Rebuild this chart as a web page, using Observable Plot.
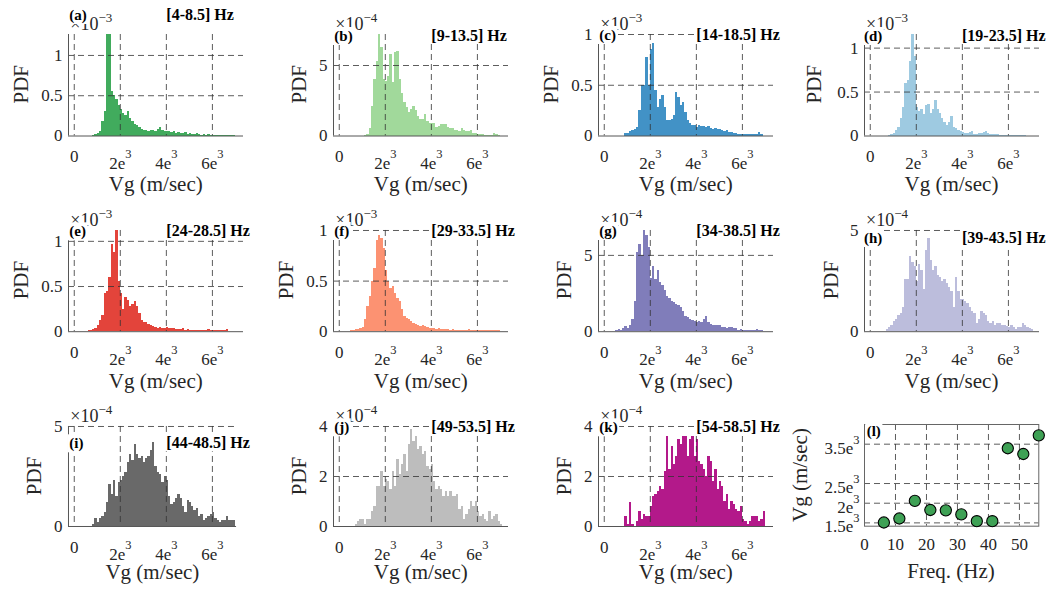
<!DOCTYPE html>
<html>
<head>
<meta charset="utf-8">
<script src="https://cdn.jsdelivr.net/npm/d3@7"></script>
<script src="https://cdn.jsdelivr.net/npm/@observablehq/plot@0.6"></script>
<style>
html,body{margin:0;padding:0;background:#fff;}
#root{position:relative;width:1055px;height:594px;overflow:hidden;background:#fff;}
#root svg{position:absolute;overflow:visible;}
</style>
</head>
<body>
<div id="root"></div>
<script>
// ---------------- data ----------------
const binWidth = 100;
const panelLetters = ["(a)","(b)","(c)","(d)","(e)","(f)","(g)","(h)","(i)","(j)","(k)","(l)"];
const bandLabels = ["[4-8.5] Hz","[9-13.5] Hz","[14-18.5] Hz","[19-23.5] Hz","[24-28.5] Hz","[29-33.5] Hz","[34-38.5] Hz","[39-43.5] Hz","[44-48.5] Hz","[49-53.5] Hz","[54-58.5] Hz"];
const binStarts = [700, 1100, 900, 800, 600, 500, 500, 700, 800, 700, 900];

const pdfA = [0,0.01,0.02,0.03,0.05,0.18,0.3,1.26,1.26,0.55,0.5,0.45,0.38,0.33,0.28,0.25,0.3,0.22,0.18,0.14,0.13,0.1,0.08,0.07,0.07,0.06,0.07,0.07,0.06,0.08,0.11,0.07,0.05,0.06,0.05,0.04,0.05,0.03,0.04,0.03,0.03,0.04,0.02,0.03,0.02,0.02,0.03,0.02,0.01,0.02,0.01,0.02,0.01,0.01,0.01,0.01,0.01,0.01,0.01,0.01,0.01,0.01,0.01];
const pdfB = [0.05,0.1,0.5,2.1,4.0,5.3,7.2,6.3,4.0,3.9,4.2,5.8,3.8,5.9,6.0,4.0,3.0,2.4,2.0,1.7,1.9,2.1,1.8,1.4,1.2,1.2,1.5,1.0,0.9,0.9,0.9,0.6,0.7,0.8,0.8,0.85,0.6,0.5,0.5,0.4,0.4,0.3,0.55,0.4,0.3,0.35,0.4,0.2,0.2,0.1,0.1,0.1,0.05,0.05,0.05,0.05,0.2,0.1,0.05];
const pdfC = [0.02,0.02,0.04,0.05,0.06,0.08,0.25,0.5,0.5,0.77,0.5,0.85,0.91,0.45,0.28,0.36,0.4,0.28,0.15,0.15,0.16,0.2,0.43,0.38,0.3,0.33,0.23,0.15,0.12,0.1,0.1,0.08,0.1,0.09,0.09,0.08,0.09,0.07,0.06,0.07,0.06,0.06,0.05,0.04,0.05,0.03,0.03,0.02,0.02,0.01,0.01,0.01,0.01,0.01,0.01,0.01,0.01,0.01,0.03,0.01];
const pdfD = [0.01,0.02,0.03,0.06,0.1,0.2,0.33,0.6,0.63,0.85,1.155,0.9,0.33,0.28,0.3,0.25,0.35,0.36,0.26,0.3,0.4,0.3,0.26,0.2,0.15,0.12,0.15,0.22,0.1,0.08,0.06,0.05,0.04,0.03,0.03,0.04,0.05,0.02,0.02,0.03,0.03,0.04,0.05,0.03,0.02,0.02,0.02,0.02,0.01,0.01,0.01,0.01,0.01,0.01,0.005,0.005,0.005,0.005,0.005,0.005];
const pdfE = [0.01,0.01,0.02,0.04,0.07,0.12,0.18,0.42,0.45,0.6,0.97,0.88,1.12,0.55,0.42,0.25,0.38,0.35,0.28,0.3,0.33,0.28,0.2,0.12,0.1,0.1,0.08,0.07,0.06,0.05,0.04,0.05,0.04,0.04,0.05,0.03,0.03,0.03,0.02,0.02,0.02,0.03,0.01,0.02,0.01,0.01,0.01,0.01,0.01,0.01,0.01,0.01,0.02,0.01,0.01,0.01,0.01,0.01,0.01,0.01,0.02];
const pdfF = [0.01,0.01,0.02,0.02,0.03,0.04,0.12,0.25,0.35,0.5,0.62,0.9,0.95,0.92,0.82,0.6,0.5,0.43,0.45,0.38,0.33,0.3,0.22,0.15,0.13,0.12,0.1,0.08,0.07,0.06,0.05,0.06,0.05,0.04,0.03,0.03,0.03,0.02,0.03,0.02,0.02,0.02,0.02,0.01,0.02,0.01,0.01,0.01,0.01,0.01,0.01,0.02,0.01,0.01,0.01,0.01,0.01,0.01,0.01,0.01,0.01,0.01,0.01,0.01,0.01];
const pdfG = [0.1,0.15,0.1,0.2,0.35,0.2,0.4,0.8,2.0,5.2,5.7,5.0,6.6,6.3,5.5,3.5,4.3,3.4,4.0,3.2,3.0,2.7,2.3,2.2,2.0,1.9,1.8,1.7,1.6,1.3,1.0,0.9,0.8,0.75,0.7,0.6,0.7,0.6,0.8,1.0,0.6,0.5,0.4,0.4,0.4,0.4,0.3,0.3,0.2,0.3,0.3,0.2,0.2,0.1,0.15,0.05,0.05,0.05,0.05,0.05,0.05,0.15,0.05,0.05];
const pdfH = [0.1,0.2,0.3,0.5,0.6,0.8,0.9,1.2,2.6,2.6,3.7,3.4,3.2,2.5,3.3,3.0,2.1,4.0,4.6,3.5,3.0,3.2,2.8,2.7,2.5,2.6,2.4,2.2,2.0,1.2,2.7,2.0,1.6,1.6,1.5,1.4,1.2,1.0,0.9,0.4,0.6,1.0,0.9,0.8,0.5,0.4,0.5,0.3,0.4,0.4,0.3,0.3,0.25,0.2,0.3,0.2,0.1,0.2,0.2,0.4,0.3,0.2,0.15,0.1];
const pdfI = [0.1,0.4,0.2,0.4,0.5,0.7,1.2,2.1,1.6,2.3,1.5,2.2,2.3,2.5,2.7,3.2,3.6,3.3,4.1,3.6,3.4,3.5,3.2,3.4,3.5,3.8,4.2,3.0,2.7,2.6,2.2,2.5,2.3,1.5,1.1,1.2,1.4,1.6,1.4,1.0,0.7,1.3,1.2,1.0,0.8,0.9,0.5,0.6,0.3,0.4,0.5,0.6,0.7,0.4,0.3,0.2,0.3,0.3,0.5,0.3,0.3,0.3];
const pdfJ = [0.1,0.2,0.3,0.3,0.1,0.3,0.3,0.6,0.8,1.6,1.6,2.2,1.6,1.9,1.8,1.5,2.2,1.6,2.7,2.1,2.5,2.9,2.2,3.3,3.9,3.4,3.6,3.1,3.2,2.9,3.0,2.4,2.3,2.5,1.8,1.5,1.6,1.5,1.2,1.4,1.2,1.4,1.2,1.2,1.3,0.7,0.8,0.3,0.5,0.7,1.0,0.8,1.0,0.6,0.4,0.5,0.3,0.2,0.6,0.3,0.4,0.5,0.2,0.1];
const pdfK = [0.4,0.1,0.95,0.1,0,0.2,0.6,0.3,0.5,0.4,0.4,0.8,1.2,1.3,1.4,1.6,1.5,2.2,3.6,2.3,3.2,2.5,2.8,3.5,3.3,3.6,3.6,2.8,3.5,3.6,2.8,3.5,2.6,2.5,2.3,2.0,2.8,2.6,1.8,2.3,1.5,1.8,1.6,1.0,1.3,0.7,1.0,0.9,0.7,0.6,0.8,0.3,0.2,0.1,0.2,0.4,0.4,0.4,0.2,0.3,0.6];
const pdfSeries = [pdfA,pdfB,pdfC,pdfD,pdfE,pdfF,pdfG,pdfH,pdfI,pdfJ,pdfK];

const yMaxes = [1.26, 7.2, 1, 1.155, 1.12, 1, 6.63, 5, 5, 4, 4];
const yTickSets = [[0,0.5,1],[0,5],[0,0.5,1],[0,0.5,1],[0,0.5,1],[0,0.5,1],[0,5],[0,5],[0,5],[0,2,4],[0,2,4]];
const exponentLabels = ["-3","-4","-3","-3","-3","-3","-4","-4","-4","-4","-4"];
const xMin = -250;
const xMaxes = [7350,7350,7350,7350,7350,7350,7350,7350,7050,7350,7350];
const xTickValues = [0, 2000, 4000, 6000];
const xTickLabels = ["0", "2e^3", "4e^3", "6e^3"];
const barColors = ["#41ab5d","#a1d99b","#4292c6","#9ecae1","#e3443b","#fc9272","#807dba","#bcbddc","#696969","#bdbdbd","#b3198a"];

const bandCenters = [6.25, 11.25, 16.25, 21.25, 26.25, 31.25, 36.25, 41.25, 46.25, 51.25, 56.25];
const meanVg = [1510, 1612, 2060, 1828, 1819, 1716, 1543, 1543, 3397, 3250, 3724];
const freqTicks = [0, 10, 20, 30, 40, 50];
const vgTicks = [1500, 2000, 2500, 3500];
const vgTickLabels = ["1.5e^3", "2e^3", "2.5e^3", "3.5e^3"];
const markerColor = "#3ea155";

// ---------------- layout ----------------
const colLeft = [68.3, 333.3, 598.3, 864];
const rowTop = [33.5, 229.5, 426];
const rowBottom = [135, 330.7, 526];
const pxPerUnit = 175 / 7600;
const FONT = "'Liberation Serif','Times New Roman',Times,serif";
const TICK = 17;
const LABEL = 21;
const ink = "#262626";
const gridStyle = {stroke: "#333", strokeWidth: 0.8, strokeDasharray: "6,4"};
const NS = "http://www.w3.org/2000/svg";
const root = document.getElementById("root");

function supify(svg, baseShift, supShift, supSize) {
  svg.querySelectorAll("text").forEach(t => {
    const s = t.textContent;
    if (!s.includes("^")) return;
    const [base, sup] = s.split("^");
    while (t.firstChild) t.removeChild(t.firstChild);
    const a = document.createElementNS(NS, "tspan");
    a.setAttribute("dy", baseShift); a.textContent = base;
    const b = document.createElementNS(NS, "tspan");
    b.setAttribute("dy", supShift); b.setAttribute("font-size", supSize); b.textContent = sup;
    t.append(a, b);
  });
}

function place(svg, left, top) {
  svg.style.left = left + "px";
  svg.style.top = top + "px";
  root.appendChild(svg);
}

// ---------------- histograms ----------------
for (let i = 0; i < 11; i++) {
  const col = i % 4, row = Math.floor(i / 4);
  const W = (xMaxes[i] - xMin) * pxPerUnit;
  const H = rowBottom[row] - rowTop[row];
  const mL = 70, mR = 10, mT = 10, mB = 40;
  const bins = pdfSeries[i].map((v, k) => ({x1: binStarts[i] + k * binWidth, x2: binStarts[i] + (k + 1) * binWidth, pdf: v}));
  const grid = yTickSets[i].filter(v => v > 0);
  const svg = Plot.plot({
    width: mL + W + mR, height: mT + H + mB,
    marginLeft: mL, marginRight: mR, marginTop: mT, marginBottom: mB,
    x: {domain: [xMin, xMaxes[i]], axis: null},
    y: {domain: [0, yMaxes[i]], axis: null},
    style: {background: "none", overflow: "visible", fontFamily: FONT},
    marks: [
      Plot.rect(bins, {x1: "x1", x2: "x2", y1: () => 0, y2: "pdf", fill: barColors[i], inset: 0, shapeRendering: "crispEdges"}),
      Plot.ruleX(xTickValues, gridStyle),
      Plot.ruleY(grid, gridStyle),
      Plot.ruleY([0], {stroke: "#555", strokeWidth: 1}),
      Plot.ruleX([xMin], {stroke: "#555", strokeWidth: 1}),
      Plot.text(xTickValues, {x: d => d, text: (d, j) => xTickLabels[j], frameAnchor: "bottom", lineAnchor: "top", dy: 14, fontSize: TICK, fill: ink}),
      Plot.text(yTickSets[i], {y: d => d, text: d => String(d), frameAnchor: "left", textAnchor: "end", dx: -6, fontSize: TICK, fill: ink})
    ]
  });
  supify(svg, 7, -11, 12.5);
  place(svg, colLeft[col] - mL, rowTop[row] - mT);
}

// ---------------- scatter (l) ----------------
{
  const W = 174.3, H = 526 - 424.3;
  const mL = 80, mR = 15, mT = 10, mB = 40;
  const pts = bandCenters.map((f, k) => ({f, v: meanVg[k]}));
  const svg = Plot.plot({
    width: mL + W + mR, height: mT + H + mB,
    marginLeft: mL, marginRight: mR, marginTop: mT, marginBottom: mB,
    x: {domain: [0, 56.25], axis: null},
    y: {domain: [1416, 4000], axis: null},
    style: {background: "none", overflow: "visible", fontFamily: FONT},
    marks: [
      Plot.ruleX(freqTicks.filter(d => d > 0), gridStyle),
      Plot.ruleY(vgTicks, gridStyle),
      Plot.frame({stroke: "#666", strokeWidth: 1}),
      Plot.dot(pts, {x: "f", y: "v", r: 5.6, fill: markerColor, stroke: "#000", strokeWidth: 1.1}),
      Plot.text(freqTicks, {x: d => d, text: d => String(d), frameAnchor: "bottom", lineAnchor: "top", dy: 12, fontSize: TICK, fill: ink}),
      Plot.text(vgTicks, {y: d => d, text: (d, j) => vgTickLabels[j], frameAnchor: "left", textAnchor: "end", dx: -5, fontSize: TICK, fill: ink})
    ]
  });
  supify(svg, 4, -10, 12.5);
  place(svg, 864 - mL, 424.3 - mT);
}

// ---------------- annotations overlay ----------------
const overlay = document.createElementNS(NS, "svg");
overlay.setAttribute("width", 1055); overlay.setAttribute("height", 594);
overlay.style.left = "0px"; overlay.style.top = "0px";
overlay.setAttribute("font-family", FONT);
root.appendChild(overlay);

function addText(x, y, parts, opts = {}) {
  const t = document.createElementNS(NS, "text");
  t.setAttribute("x", x); t.setAttribute("y", y);
  t.setAttribute("font-size", opts.size || TICK);
  t.setAttribute("fill", opts.fill || ink);
  if (opts.weight) t.setAttribute("font-weight", opts.weight);
  if (opts.anchor) t.setAttribute("text-anchor", opts.anchor);
  if (opts.rotate) t.setAttribute("transform", `rotate(-90 ${x} ${y})`);
  parts.forEach(p => {
    const s = document.createElementNS(NS, "tspan");
    s.textContent = p.text;
    if (p.size) s.setAttribute("font-size", p.size);
    if (p.dy) s.setAttribute("dy", p.dy);
    t.appendChild(s);
  });
  overlay.appendChild(t);
  if (opts.box) {
    const b = t.getBBox();
    const r = document.createElementNS(NS, "rect");
    r.setAttribute("x", b.x - 1.5); r.setAttribute("y", b.y - 0.5);
    r.setAttribute("width", b.width + 3); r.setAttribute("height", b.height + 1);
    r.setAttribute("fill", "#fff");
    overlay.insertBefore(r, t);
  }
  return t;
}

const xlabelDrop = [56, 57, 53];
const ylabelOffset = [47, 34, 47, 50, 47, 47, 34, 33, 34, 34, 34];
const letterCenterY = [15, 36, 35, 36, 231.3, 231, 231, 238, 443.3, 427.3, 427.3, 431.7];
const letterDx = [1, 1, 1, 0, 1, 1, 1, 0, 1, 1, 1, 2.7];

// exponents
for (let i = 0; i < 11; i++) {
  const col = i % 4, row = Math.floor(i / 4);
  addText(colLeft[col] + 2, rowTop[row] - 4, [{text: "\u00d710"}, {text: exponentLabels[i].replace("-", "\u2212"), size: 13, dy: -8}], {size: 18});
}
// axis labels
for (let i = 0; i < 11; i++) {
  const col = i % 4, row = Math.floor(i / 4);
  const W = (xMaxes[i] - xMin) * pxPerUnit;
  addText(colLeft[col] + W / 2, rowBottom[row] + xlabelDrop[row], [{text: "Vg (m/sec)"}], {size: LABEL, anchor: "middle"});
  const cx = colLeft[col] - ylabelOffset[i] + 7;
  addText(cx, (rowTop[row] + rowBottom[row]) / 2, [{text: "PDF"}], {size: LABEL, anchor: "middle", rotate: true});
}
addText(951, 578, [{text: "Freq. (Hz)"}], {size: LABEL, anchor: "middle"});
addText(807, 475, [{text: "Vg (m/sec)"}], {size: LABEL, anchor: "middle", rotate: true});

// panel letters and band labels
for (let i = 0; i < 12; i++) {
  const col = i % 4, row = Math.floor(i / 4);
  const base = letterCenterY[i] + 4.5;
  addText(colLeft[col] + letterDx[i], base, [{text: panelLetters[i]}], {size: 15, weight: "bold", fill: "#000", box: true});
  if (i < 11) addText(colLeft[col] + 98, base, [{text: bandLabels[i]}], {size: 16, weight: "bold", fill: "#000", box: true});
}
</script>
</body>
</html>
